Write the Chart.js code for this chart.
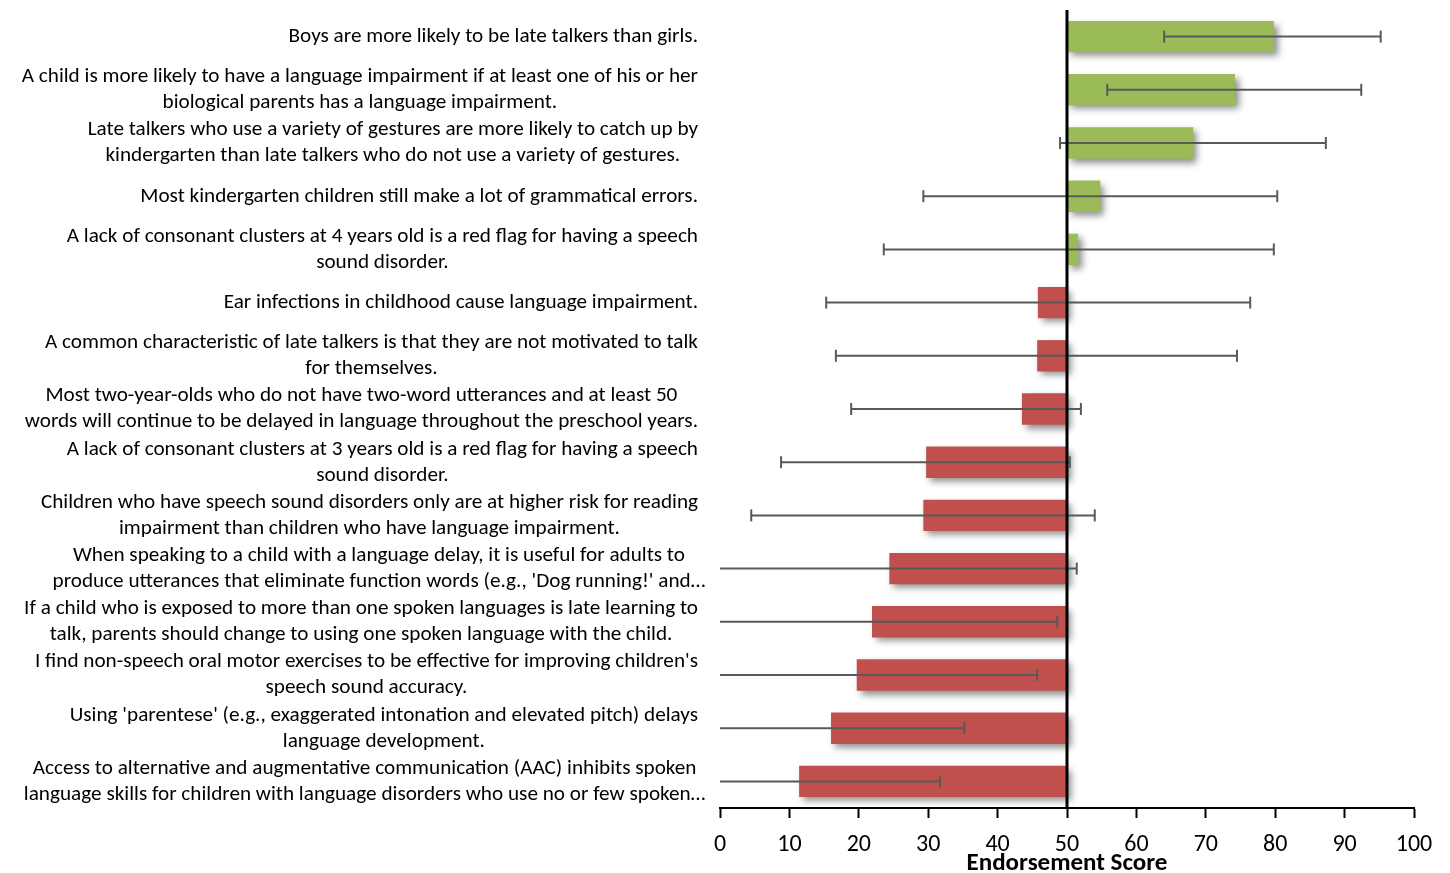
<!DOCTYPE html>
<html>
<head>
<meta charset="utf-8">
<script src="https://cdn.jsdelivr.net/npm/chart.js@4.4.0/dist/chart.umd.min.js"></script>
<style>
  html, body { margin: 0; padding: 0; background: #fff; }
  #wrap { width: 1450px; height: 873px; position: relative; }
</style>
</head>
<body>
<div id="wrap"><canvas id="chart"></canvas></div>
<script>
// statements (top to bottom), each as its wrapped lines
const statements = [
  ['Boys are more likely to be late talkers than girls.'],
  ['A child is more likely to have a language impairment if at least one of his or her', 'biological parents has a language impairment.'],
  ['Late talkers who use a variety of gestures are more likely to catch up by', 'kindergarten than late talkers who do not use a variety of gestures.'],
  ['Most kindergarten children still make a lot of grammatical errors.'],
  ['A lack of consonant clusters at 4 years old is a red flag for having a speech', 'sound disorder.'],
  ['Ear infections in childhood cause language impairment.'],
  ['A common characteristic of late talkers is that they are not motivated to talk', 'for themselves.'],
  ['Most two-year-olds who do not have two-word utterances and at least 50', 'words will continue to be delayed in language throughout the preschool years.'],
  ['A lack of consonant clusters at 3 years old is a red flag for having a speech', 'sound disorder.'],
  ['Children who have speech sound disorders only are at higher risk for reading', 'impairment than children who have language impairment.'],
  ['When speaking to a child with a language delay, it is useful for adults to', 'produce utterances that eliminate function words (e.g., \'Dog running!\' and\u2026'],
  ['If a child who is exposed to more than one spoken languages is late learning to', 'talk, parents should change to using one spoken language with the child.'],
  ['I find non-speech oral motor exercises to be effective for improving children\'s', 'speech sound accuracy.'],
  ['Using \'parentese\' (e.g., exaggerated intonation and elevated pitch) delays', 'language development.'],
  ['Access to alternative and augmentative communication (AAC) inhibits spoken', 'language skills for children with language disorders who use no or few spoken\u2026']
];

// mean endorsement score
const means = [79.8, 74.2, 68.2, 54.8, 51.6, 45.8, 45.7, 43.5, 29.7, 29.3, 24.4, 21.9, 19.7, 16.0, 11.4];
// error bar ends
const lowerBounds = [64.0, 55.8, 49.0, 29.3, 23.6, 15.3, 16.7, 18.9, 8.8, 4.5, -2.6, -4.8, -6.3, -3.2, -8.9];
const upperBounds = [95.2, 92.4, 87.3, 80.3, 79.8, 76.4, 74.5, 52.0, 50.4, 54.0, 51.4, 48.6, 45.7, 35.2, 31.7];

const xTicks = [0, 10, 20, 30, 40, 50, 60, 70, 80, 90, 100];
const midpoint = 50;

const FONT = 'Carlito, Lato, sans-serif';

// labels drawn to the left of the plot, right aligned block with centered lines
const labelPlugin = {
  id: 'statementLabels',
  afterDraw(chart) {
    const ctx = chart.ctx;
    const y = chart.scales.y;
    const rightEdge = 698;
    const lineH = 26;
    ctx.save();
    ctx.font = '21.2px ' + FONT;
    ctx.fillStyle = '#000';
    ctx.textBaseline = 'middle';
    ctx.textAlign = 'center';
    statements.forEach((lines, i) => {
      const cy = y.getPixelForValue(i);
      const widths = lines.map(l => ctx.measureText(l.replace('\u2026', '')).width);
      const blockW = Math.max(...widths);
      const cx = rightEdge - blockW / 2;
      const top = cy - (lines.length - 1) * lineH / 2;
      lines.forEach((l, j) => ctx.fillText(l, cx, top + j * lineH));
    });
    ctx.restore();
  }
};

// soft drop shadow behind the bars
const shadowPlugin = {
  id: 'barShadow',
  beforeDatasetsDraw(chart) {
    const ctx = chart.ctx;
    ctx.save();
    ctx.shadowColor = 'rgba(0,0,0,0.45)';
    ctx.shadowBlur = 7;
    ctx.shadowOffsetX = 4;
    ctx.shadowOffsetY = 4;
  },
  afterDatasetsDraw(chart) {
    chart.ctx.restore();
  }
};

// error bars + the thick line at 50
const errorPlugin = {
  id: 'errorBars',
  afterDatasetsDraw(chart) {
    const ctx = chart.ctx;
    const x = chart.scales.x;
    const y = chart.scales.y;
    const area = chart.chartArea;
    ctx.save();
    ctx.beginPath();
    ctx.rect(area.left, area.top - 5, area.right - area.left + 30, area.bottom - area.top + 10);
    ctx.clip();
    ctx.strokeStyle = '#595959';
    ctx.lineWidth = 2;
    means.forEach((m, i) => {
      const cy = y.getPixelForValue(i);
      const x1 = x.getPixelForValue(lowerBounds[i]);
      const x2 = x.getPixelForValue(upperBounds[i]);
      ctx.beginPath();
      ctx.moveTo(x1, cy);
      ctx.lineTo(x2, cy);
      ctx.stroke();
      [x1, x2].forEach(px => {
        if (px < area.left) return;
        ctx.beginPath();
        ctx.moveTo(px, cy - 6);
        ctx.lineTo(px, cy + 6);
        ctx.stroke();
      });
    });
    ctx.restore();

    ctx.save();
    ctx.strokeStyle = '#000';
    ctx.lineWidth = 3;
    const mx = x.getPixelForValue(midpoint);
    ctx.beginPath();
    ctx.moveTo(mx, area.top);
    ctx.lineTo(mx, area.bottom);
    ctx.stroke();
    ctx.restore();
  }
};

new Chart(document.getElementById('chart'), {
  type: 'bar',
  data: {
    labels: statements.map(s => s.join(' ')),
    datasets: [{
      data: means.map(v => [midpoint, v]),
      backgroundColor: means.map(v => v >= midpoint ? '#9BBB59' : '#C0504D'),
      borderWidth: 0,
      barPercentage: 0.59,
      categoryPercentage: 1.0
    }]
  },
  options: {
    indexAxis: 'y',
    responsive: true,
    maintainAspectRatio: false,
    animation: false,
    layout: { padding: { left: 712, right: 36, top: 10, bottom: 0 } },
    plugins: {
      legend: { display: false },
      tooltip: { enabled: false }
    },
    scales: {
      x: {
        min: 0,
        max: 100,
        afterBuildTicks(axis) { axis.ticks = xTicks.map(v => ({ value: v })); },
        afterFit(axis) { axis.height = 65; },
        grid: {
          drawOnChartArea: false,
          drawTicks: true,
          tickLength: 10,
          tickColor: '#000',
          tickWidth: 2
        },
        border: { display: true, color: '#000', width: 2 },
        ticks: {
          color: '#000',
          padding: 15,
          maxRotation: 0,
          font: { family: FONT, size: 24, lineHeight: 1 }
        },
        title: {
          display: true,
          text: 'Endorsement Score',
          color: '#000',
          padding: { top: 0, bottom: -3 },
          font: { family: FONT, size: 25, weight: 'bold', lineHeight: 1 }
        }
      },
      y: {
        offset: true,
        grid: { display: false },
        border: { display: false },
        ticks: { display: false }
      }
    }
  },
  plugins: [shadowPlugin, errorPlugin, labelPlugin]
});
</script>
</body>
</html>
